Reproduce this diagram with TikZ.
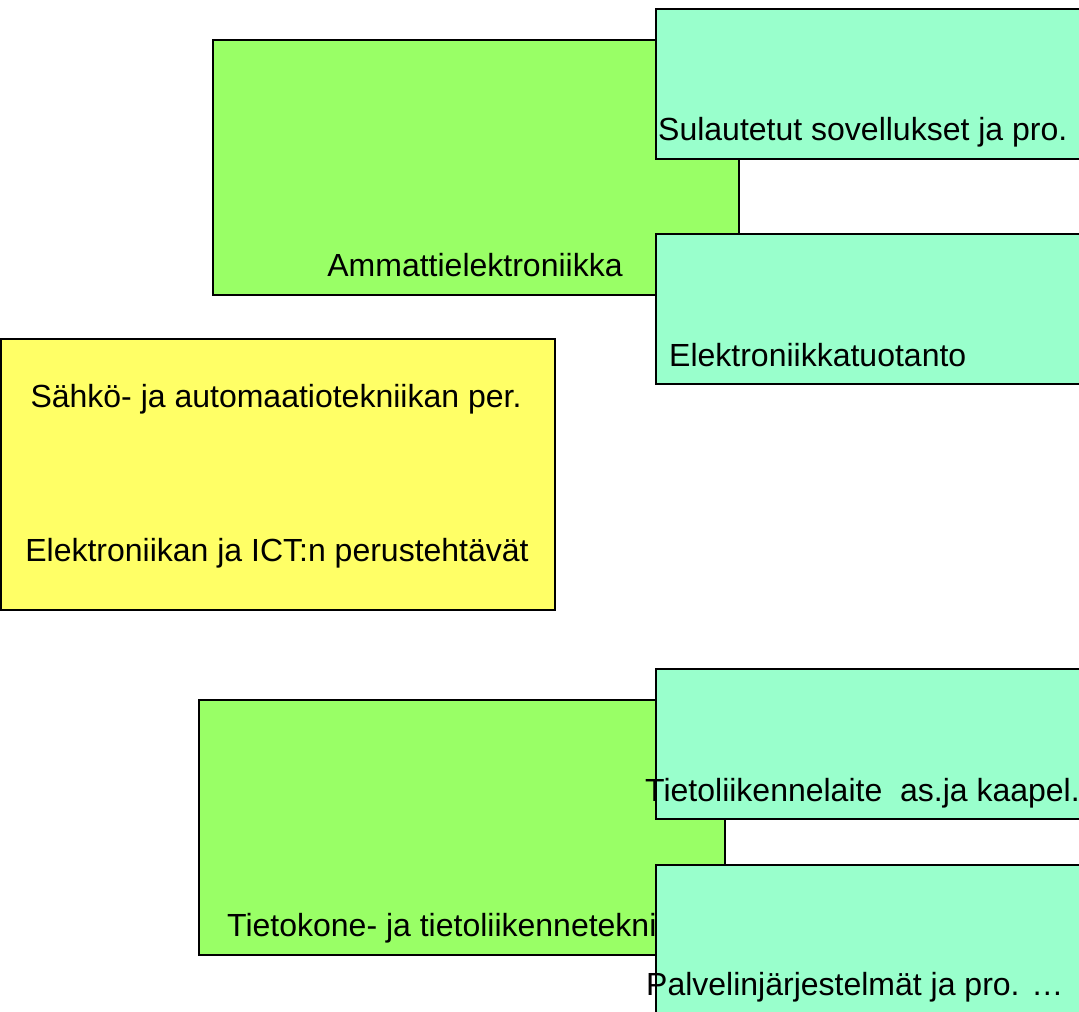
\documentclass[tikz,border=0pt]{standalone}
\usepackage{fontspec}
\setmainfont{Liberation Sans}
\definecolor{lgreen}{HTML}{99FF66}
\definecolor{lteal}{HTML}{99FFCC}
\definecolor{lyellow}{HTML}{FFFF66}
\tikzset{
  box/.style={draw=black, line width=2pt, inner sep=0pt, anchor=north west, rectangle},
  lbl/.style={inner sep=0pt, font=\fontsize{32}{38}\selectfont},
}
\begin{document}
\begin{tikzpicture}[x=1pt,y=-1pt]
\useasboundingbox (0,0) rectangle (1079,1012);
% green boxes
\node[box, fill=lgreen, minimum width=526pt, minimum height=255pt] (g1) at (212,39) {};
\node[lbl, anchor=base] (g1t) at (475,276) {Ammattielektroniikka};
\node[box, fill=lgreen, minimum width=526pt, minimum height=255pt] (g2) at (198,699) {};
\node[lbl, anchor=base west] (g2t) at (227,936) {Tietokone- ja tietoliikennetekniikka};
% yellow box
\node[box, fill=lyellow, minimum width=554pt, minimum height=271pt] (y1) at (0,338) {};
\node[lbl, anchor=base] (y1a) at (276,407) {Sähkö- ja automaatiotekniikan per.};
\node[lbl, anchor=base] (y1b) at (277,561) {Elektroniikan ja ICT:n perustehtävät};
% teal boxes
\node[box, fill=lteal, minimum width=440pt, minimum height=150pt] (t1) at (655,8) {};
\node[lbl, anchor=base west] (t1t) at (658,140) {Sulautetut sovellukset ja pro.};
\node[box, fill=lteal, minimum width=440pt, minimum height=150pt] (t2) at (655,233) {};
\node[lbl, anchor=base west] (t2t) at (669,366) {Elektroniikkatuotanto};
\node[box, fill=lteal, minimum width=440pt, minimum height=150pt] (t3) at (655,668) {};
\node[lbl, anchor=base west] (t3t) at (645,801) {Tietoliikennelaite\ \ as.ja kaapel.};
\node[box, fill=lteal, minimum width=440pt, minimum height=160pt] (t4) at (655,864) {};
\node[lbl, anchor=base west] (t4t) at (646,995) {Palvelinjärjestelmät ja pro. …};
\end{tikzpicture}
\end{document}
